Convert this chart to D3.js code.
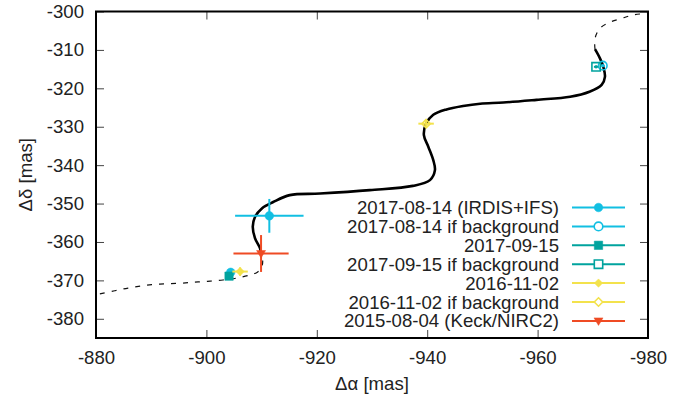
<!DOCTYPE html>
<html>
<head>
<meta charset="utf-8">
<script src="https://cdn.jsdelivr.net/npm/d3@7"></script>
<style>
    html, body { margin: 0; padding: 0; background: #fff; }
    svg { display: block; }
    text { font-family: "Liberation Sans", Arial, Helvetica, sans-serif; fill: #222; }
</style>
</head>
<body>
<div id="chart"></div>
<script>
// -----------------------------------------------------------------------------
// Relative astrometry: background track vs. measured positions (mas)
// -----------------------------------------------------------------------------

// background-star track [Δα, Δδ]
const trackBefore = [
    [-880.7, -373.5], [-883.4, -372.7], [-885.8, -372.0], [-888.0, -371.5],
    [-890.1, -371.1], [-892.3, -370.9], [-894.5, -370.8], [-896.7, -370.6],
    [-898.5, -370.4], [-900.7, -370.2], [-903.0, -369.9], [-905.5, -369.4],
    [-907.9, -368.6], [-909.3, -367.8], [-910.0, -366.5], [-910.2, -365.0],
    [-909.9, -363.0]
];
const trackSolid = [
    [-909.9, -363.0], [-909.7, -361.6], [-908.8, -359.0], [-908.4, -356.0],
    [-908.8, -353.5], [-910.1, -351.2], [-912.1, -349.6], [-915.1, -347.8],
    [-920.6, -347.4], [-929.6, -346.5], [-937.4, -345.4], [-940.5, -343.9],
    [-941.4, -341.3], [-941.1, -338.7], [-940.2, -335.2], [-939.4, -332.2],
    [-939.8, -329.2], [-941.1, -326.9], [-943.5, -325.5], [-946.5, -324.6],
    [-949.6, -324.0], [-953.8, -323.7], [-959.8, -323.0], [-965.9, -322.2],
    [-969.4, -320.9], [-971.6, -319.1], [-972.2, -317.0], [-971.9, -314.4],
    [-971.3, -312.2], [-970.4, -309.8]
];
const trackAfter = [
    [-970.4, -309.8], [-970.4, -307.0], [-971.3, -304.4], [-973.1, -302.8],
    [-975.2, -301.8], [-977.3, -300.9], [-979.4, -300.5], [-980.5, -300.2]
];

// legend order; one entry per plotted series
const seriesLabels = [
    "2017-08-14 (IRDIS+IFS)",
    "2017-08-14 if background",
    "2017-09-15",
    "2017-09-15 if background",
    "2016-11-02",
    "2016-11-02 if background",
    "2015-08-04 (Keck/NIRC2)"
];
// measured / predicted points per series: [Δα, Δδ, σα, σδ]
const seriesPoints = [
    [[-911.4, -353.2, 6.2, 4.4], [-904.4, -367.9, 0.4, 0.4]],
    [[-971.8, -314.1, 0.4, 0.4]],
    [[-904.1, -368.9, 0.4, 0.4]],
    [[-970.6, -314.4, 0.4, 0.4]],
    [[-906.1, -367.7, 1.4, 1.1]],
    [[-939.8, -329.2, 1.4, 1.1]],
    [[-909.9, -363.0, 5.0, 4.8]]
];

const xTicks = [-880, -900, -920, -940, -960, -980];
const yTicks = [-300, -310, -320, -330, -340, -350, -360, -370, -380];

// styling, kept apart from the data
const STYLE = {
    width: 694, height: 403,
    plot: { left: 96, right: 648, top: 11.5, bottom: 338 },
    font: 18.6,
    colors: ["#12bfe2", "#12bfe2", "#00a39e", "#00a39e", "#f3e24c", "#f3e24c", "#ef4b24"],
    symbols: ["circle", "circle", "square", "square", "diamond", "diamond", "triangle"],
    filled: [true, false, true, false, true, false, true]
};

// marker path centred on 0,0 (pixel sizes)
function markerPath(kind) {
    if (kind === "circle") return d3.arc()({ innerRadius: 0, outerRadius: 4.3, startAngle: 0, endAngle: 2 * Math.PI });
    if (kind === "square") return "M-4.2,-4.2H4.2V4.2H-4.2Z";
    if (kind === "diamond") return "M0,-4.2L4.2,0L0,4.2L-4.2,0Z";
    return "M-4.5,-3L4.5,-3L0,4.5Z"; // triangle pointing down
}

const svg = d3.select("#chart").append("svg")
    .attr("width", STYLE.width).attr("height", STYLE.height)
    .attr("viewBox", `0 0 ${STYLE.width} ${STYLE.height}`);

const P = STYLE.plot;
const x = d3.scaleLinear().domain([-880, -980]).range([P.left, P.right]);
const y = d3.scaleLinear().domain([-300, -385]).range([P.top, P.bottom]);

svg.append("defs").append("clipPath").attr("id", "clip")
    .append("rect")
    .attr("x", P.left).attr("y", P.top)
    .attr("width", P.right - P.left).attr("height", P.bottom - P.top);

// --- axes: ticks point inward, mirrored on top / right ---
const plain = d => String(d);   // ASCII hyphen, like the original
function styleAxis(g) {
    g.select(".domain").remove();
    g.selectAll(".tick line").attr("stroke", "#444").attr("stroke-width", 1);
    g.selectAll(".tick text").style("font-size", STYLE.font + "px")
        .attr("fill", "#222");
}
svg.append("g").attr("transform", `translate(0,${P.bottom})`)
    .call(d3.axisBottom(x).tickValues(xTicks).tickSize(-8).tickPadding(13).tickFormat(plain))
    .call(styleAxis);
svg.append("g").attr("transform", `translate(0,${P.top})`)
    .call(d3.axisTop(x).tickValues(xTicks).tickSize(-8).tickFormat(""))
    .call(styleAxis);
svg.append("g").attr("transform", `translate(${P.left},0)`)
    .call(d3.axisLeft(y).tickValues(yTicks).tickSize(-8).tickPadding(12).tickFormat(plain))
    .call(styleAxis);
svg.append("g").attr("transform", `translate(${P.right},0)`)
    .call(d3.axisRight(y).tickValues(yTicks).tickSize(-8).tickFormat(""))
    .call(styleAxis);

// --- track ---
const line = d3.line().x(d => x(d[0])).y(d => y(d[1])).curve(d3.curveCatmullRom);
const track = svg.append("g").attr("clip-path", "url(#clip)");
[trackBefore, trackAfter].forEach(seg => {
    track.append("path").datum(seg).attr("d", line)
        .attr("fill", "none").attr("stroke", "#111")
        .attr("stroke-width", 1.2).attr("stroke-dasharray", "5,7");
});
track.append("path").datum(trackSolid).attr("d", line)
    .attr("fill", "none").attr("stroke", "#000").attr("stroke-width", 2.6);

// --- points with error bars ---
const pts = svg.append("g");
seriesPoints.forEach((points, i) => {
    const col = STYLE.colors[i];
    const g = pts.append("g");
    g.selectAll("line.ex").data(points).join("line")
        .attr("x1", d => x(d[0] - d[2])).attr("x2", d => x(d[0] + d[2]))
        .attr("y1", d => y(d[1])).attr("y2", d => y(d[1]))
        .attr("stroke", col).attr("stroke-width", 2);
    g.selectAll("line.ey").data(points).join("line")
        .attr("x1", d => x(d[0])).attr("x2", d => x(d[0]))
        .attr("y1", d => y(d[1] - d[3])).attr("y2", d => y(d[1] + d[3]))
        .attr("stroke", col).attr("stroke-width", 2);
    g.selectAll("path").data(points).join("path")
        .attr("transform", d => `translate(${x(d[0])},${y(d[1])})`)
        .attr("d", markerPath(STYLE.symbols[i]))
        .attr("fill", STYLE.filled[i] ? col : "none")
        .attr("stroke", col).attr("stroke-width", STYLE.filled[i] ? 0.5 : 1.6);
});

// --- legend ---
const legend = svg.append("g");
const rowY = i => 207.5 + i * 18.9;
seriesLabels.forEach((label, i) => {
    const col = STYLE.colors[i];
    legend.append("text")
        .attr("x", 559).attr("y", rowY(i)).attr("dy", "0.35em")
        .attr("text-anchor", "end").style("font-size", STYLE.font + "px")
        .text(label);
    legend.append("line")
        .attr("x1", 572).attr("x2", 625).attr("y1", rowY(i)).attr("y2", rowY(i))
        .attr("stroke", col).attr("stroke-width", 2);
    legend.append("path")
        .attr("transform", `translate(598.5,${rowY(i)})`)
        .attr("d", markerPath(STYLE.symbols[i]))
        .attr("fill", STYLE.filled[i] ? col : "#fff")
        .attr("stroke", col).attr("stroke-width", STYLE.filled[i] ? 0.5 : 1.6);
});

// --- frame and axis titles ---
svg.append("rect")
    .attr("x", P.left).attr("y", P.top)
    .attr("width", P.right - P.left).attr("height", P.bottom - P.top)
    .attr("fill", "none").attr("stroke", "#000").attr("stroke-width", 2);

svg.append("text")
    .attr("x", (P.left + P.right) / 2).attr("y", 390)
    .attr("text-anchor", "middle").style("font-size", STYLE.font + "px")
    .text("Δα [mas]");
svg.append("text")
    .attr("transform", `translate(32,${(P.top + P.bottom) / 2}) rotate(-90)`)
    .attr("text-anchor", "middle").style("font-size", STYLE.font + "px")
    .text("Δδ [mas]");
</script>
</body>
</html>
